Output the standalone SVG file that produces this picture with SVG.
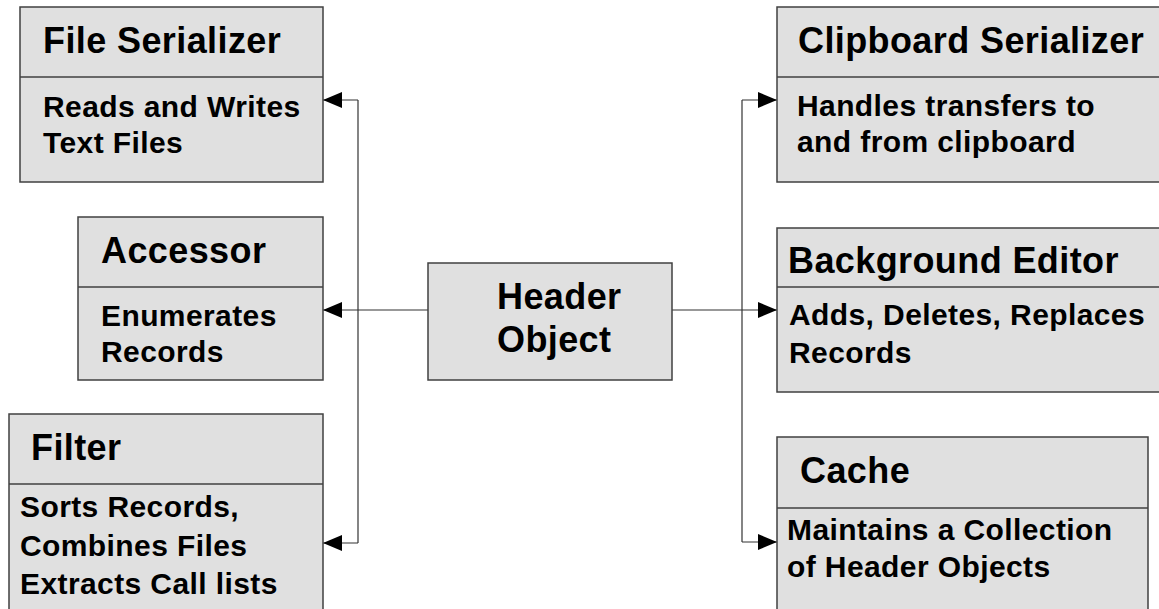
<svg xmlns="http://www.w3.org/2000/svg" width="1159" height="609" viewBox="0 0 1159 609">
<defs>
<style>
.box{fill:#e0e0e0;stroke:#404040;stroke-width:1.5}
.div{stroke:#404040;stroke-width:1.5;fill:none}
.t{font-family:"Liberation Sans",Arial,sans-serif;font-weight:bold;font-size:36px;letter-spacing:0.4px;fill:#000}
.b{font-family:"Liberation Sans",Arial,sans-serif;font-weight:bold;font-size:30px;letter-spacing:0.4px;fill:#000}
.c{stroke:#333;stroke-width:1.2;fill:none}
</style>
<marker id="arr" markerWidth="19" markerHeight="16" refX="19" refY="8" orient="auto" markerUnits="userSpaceOnUse">
<path d="M0,0 L19,8 L0,16 Z" fill="#000"/>
</marker>
</defs>
<rect width="1159" height="609" fill="#fff"/>
<g id="connectors">
<path class="c" d="M358,100 L358,543"/>
<path class="c" d="M358,100 L323,100" marker-end="url(#arr)"/>
<path class="c" d="M428,310 L323,310" marker-end="url(#arr)"/>
<path class="c" d="M358,543 L323,543" marker-end="url(#arr)"/>
<path class="c" d="M742,100 L742,542"/>
<path class="c" d="M742,100 L777,100" marker-end="url(#arr)"/>
<path class="c" d="M672,310 L777,310" marker-end="url(#arr)"/>
<path class="c" d="M742,542 L777,542" marker-end="url(#arr)"/>
</g>
<g id="file-serializer">
<rect class="box" x="20" y="7" width="303" height="175"/>
<line class="div" x1="20" y1="77" x2="323" y2="77"/>
<text class="t" x="43" y="53">File Serializer</text>
<text class="b" x="43" y="117">Reads and Writes</text>
<text class="b" x="43" y="153">Text Files</text>
</g>
<g id="accessor">
<rect class="box" x="78" y="217" width="245" height="163"/>
<line class="div" x1="78" y1="287" x2="323" y2="287"/>
<text class="t" x="101" y="263">Accessor</text>
<text class="b" x="101" y="326">Enumerates</text>
<text class="b" x="101" y="362">Records</text>
</g>
<g id="filter">
<rect class="box" x="9" y="414" width="314" height="210"/>
<line class="div" x1="9" y1="484" x2="323" y2="484"/>
<text class="t" x="31" y="460">Filter</text>
<text class="b" x="20" y="517">Sorts Records,</text>
<text class="b" x="20" y="556">Combines Files</text>
<text class="b" x="20" y="594">Extracts Call lists</text>
</g>
<g id="header-object">
<rect class="box" x="428" y="263" width="244" height="117"/>
<text class="t" x="497" y="309" letter-spacing="1">Header</text>
<text class="t" x="497" y="352" letter-spacing="1">Object</text>
</g>
<g id="clipboard-serializer">
<rect class="box" x="777" y="7" width="400" height="175"/>
<line class="div" x1="777" y1="77" x2="1177" y2="77"/>
<text class="t" x="798" y="53">Clipboard Serializer</text>
<text class="b" x="797" y="116">Handles transfers to</text>
<text class="b" x="797" y="152">and from clipboard</text>
</g>
<g id="background-editor">
<rect class="box" x="777" y="228" width="400" height="164"/>
<line class="div" x1="777" y1="287" x2="1177" y2="287"/>
<text class="t" x="788" y="273">Background Editor</text>
<text class="b" x="789" y="325">Adds, Deletes, Replaces</text>
<text class="b" x="789" y="363">Records</text>
</g>
<g id="cache">
<rect class="box" x="777" y="437" width="371" height="190"/>
<line class="div" x1="777" y1="508" x2="1148" y2="508"/>
<text class="t" x="800" y="483">Cache</text>
<text class="b" x="787" y="540">Maintains a Collection</text>
<text class="b" x="787" y="577">of Header Objects</text>
</g>
</svg>
